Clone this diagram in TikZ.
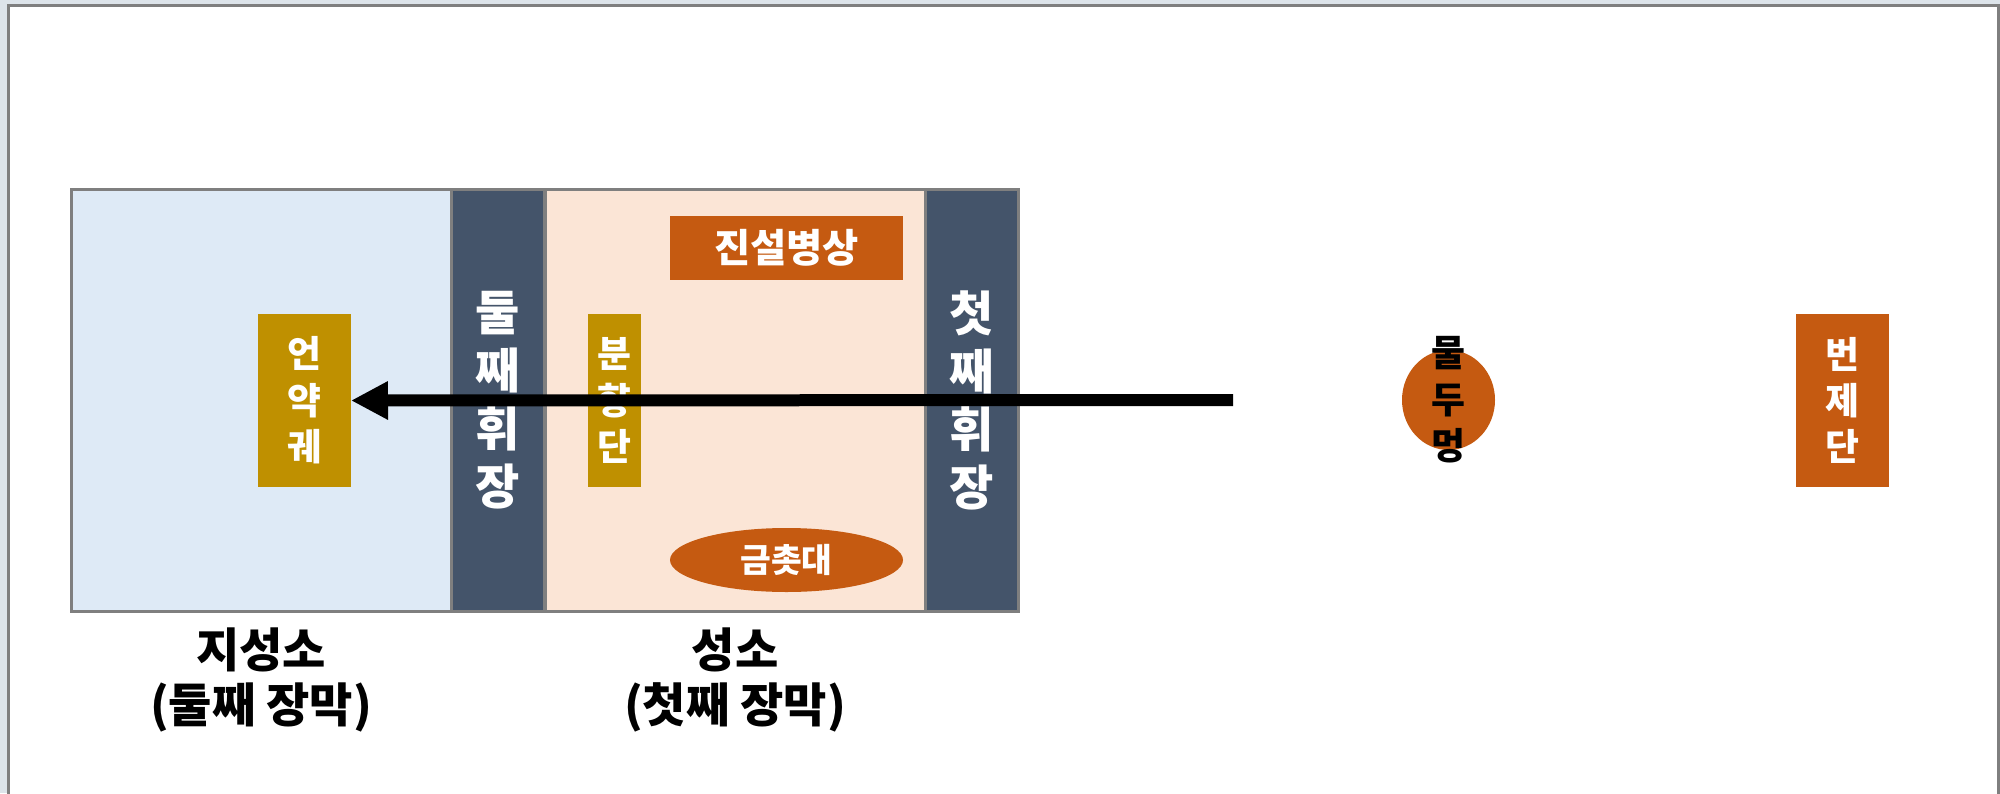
\documentclass[tikz,border=0pt]{standalone}
\usepackage{fontspec}
\setmainfont{Noto Sans CJK KR}
\usetikzlibrary{arrows.meta,shapes.geometric}
\definecolor{framegray}{HTML}{7F7F7F}
\definecolor{deskbg}{HTML}{DDE4EA}
\definecolor{hohblue}{HTML}{DEEAF6}
\definecolor{holypeach}{HTML}{FBE5D6}
\definecolor{veilslate}{HTML}{44546A}
\definecolor{rust}{HTML}{C55A11}
\definecolor{gold}{HTML}{BF9000}

\begin{document}
\begin{tikzpicture}[
	room/.style={draw=framegray, line width=0.03cm, minimum height=4.22cm, inner sep=0, outer sep=0},
	veil/.style={room, fill=veilslate, minimum width=0.93cm, text=white, align=center,
		font=\bfseries\fontsize{13.7}{16.5}\selectfont},
	item/.style={inner sep=0, outer sep=0, text=white, align=center,
		font=\bfseries\fontsize{10.5}{13.2}\selectfont},
	tallitem/.style={item, minimum width=0.93cm, minimum height=1.73cm},
	caption/.style={align=center, inner sep=0, font=\bfseries\fontsize{13.4}{15.8}\selectfont}
	]
	\useasboundingbox (0,0) rectangle (20,7.93);
	\clip (0,0) rectangle (20,7.93);
	\fill [deskbg] (0,0) rectangle (20,7.93);
	\fill [white] (0.085,-0.5) rectangle (19.985,7.875);
	\draw [framegray, line width=0.03cm] (0.085,-0.5) -- (0.085,7.875) -- (19.985,7.875) -- (19.985,-0.5);
	
	\node [room, fill=hohblue, minimum width=3.80cm] (jiseongso) at (2.61,3.93) {};
	\node [veil] (hwijang2) at (4.98,3.93) {둘\\째\\휘\\장};
	\node [room, fill=holypeach, minimum width=3.80cm] (seongso) at (7.35,3.93) {};
	\node [veil] (hwijang1) at (9.715,3.93) {첫\\째\\휘\\장};
	
	\node [item, fill=rust, minimum width=2.33cm, minimum height=0.64cm, font=\bfseries\fontsize{11.2}{13}\selectfont] (jinseol) at (7.865,5.45) {진설병상};
	\node [tallitem, fill=gold, minimum width=0.53cm] (bunhyang) at (6.145,3.925) {분\\향\\단};
	\node [item, fill=rust, ellipse, minimum width=2.33cm, minimum height=0.64cm, font=\bfseries\fontsize{9.5}{11}\selectfont] (chotdae) at (7.865,2.33) {금촛대};
	\node [tallitem, fill=gold] (ark) at (3.045,3.925) {언\\약\\궤};
	
	\fill [rust] (14.485,3.93) ellipse [x radius=0.465, y radius=0.5];
	\node [item, text=black] (muldu) at (14.485,3.93) {물\\두\\멍};
	\node [tallitem, fill=rust] (beonje) at (18.425,3.925) {번\\제\\단};
	
	\node [caption] (lblhoh) at (2.61,1.13) {지성소\\(둘째 장막)};
	\node [caption] (lblholy) at (7.35,1.13) {성소\\(첫째 장막)};
	
	\coordinate (entry) at (12.33,3.93);
	\draw [line width=0.12cm, -{Triangle[length=0.37cm, width=0.36cm]}] (entry) -- (ark.east);
\end{tikzpicture}
\end{document}
